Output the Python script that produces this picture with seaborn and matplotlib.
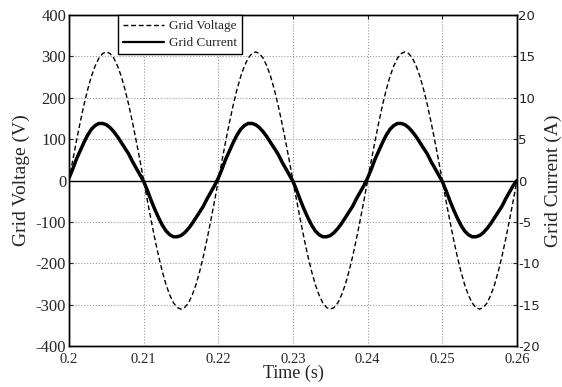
import numpy as np
import pandas as pd
import matplotlib
matplotlib.use("Agg")
import matplotlib.pyplot as plt
import seaborn as sns

# time axis (s), sampled every 0.5 ms
time = np.round(np.arange(0.2, 0.26 + 1e-9, 0.0005), 4)

# grid voltage (V)
voltage = [
    0, 49, 96, 141, 183, 220, 252, 277, 296, 307, 311, 307, 296, 277, 252, 220, 183, 141, 96, 49,
    0, -49, -96, -141, -183, -220, -252, -277, -296, -307, -311, -307, -296, -277, -252, -220, -183, -141, -96, -49,
    0, 49, 96, 141, 183, 220, 252, 277, 296, 307, 311, 307, 296, 277, 252, 220, 183, 141, 96, 49,
    0, -49, -96, -141, -183, -220, -252, -277, -296, -307, -311, -307, -296, -277, -252, -220, -183, -141, -96, -49,
    0, 49, 96, 141, 183, 220, 252, 277, 296, 307, 311, 307, 296, 277, 252, 220, 183, 141, 96, 49,
    0, -49, -96, -141, -183, -220, -252, -277, -296, -307, -311, -307, -296, -277, -252, -220, -183, -141, -96, -49,
    0,
]

# grid current (A)
current = [
    0.3, 1.4, 2.6, 3.6, 4.6, 5.5, 6.2, 6.65, 6.9, 6.9, 6.75, 6.4, 5.9, 5.3, 4.6, 3.9, 3.2, 2.3, 1.5, 0.7,
    -0.1, -1.2, -2.4, -3.5, -4.5, -5.4, -6.1, -6.55, -6.8, -6.8, -6.65, -6.3, -5.8, -5.2, -4.5, -3.8, -3.1, -2.2, -1.4, -0.6,
    0.3, 1.4, 2.6, 3.6, 4.6, 5.5, 6.2, 6.65, 6.9, 6.9, 6.75, 6.4, 5.9, 5.3, 4.6, 3.9, 3.2, 2.3, 1.5, 0.7,
    -0.1, -1.2, -2.4, -3.5, -4.5, -5.4, -6.1, -6.55, -6.8, -6.8, -6.65, -6.3, -5.8, -5.2, -4.5, -3.8, -3.1, -2.2, -1.4, -0.6,
    0.3, 1.4, 2.6, 3.6, 4.6, 5.5, 6.2, 6.65, 6.9, 6.9, 6.75, 6.4, 5.9, 5.3, 4.6, 3.9, 3.2, 2.3, 1.5, 0.7,
    -0.1, -1.2, -2.4, -3.5, -4.5, -5.4, -6.1, -6.55, -6.8, -6.8, -6.65, -6.3, -5.8, -5.2, -4.5, -3.8, -3.1, -2.2, -1.4, -0.6,
    0.0,
]

x_ticks = [0.2, 0.21, 0.22, 0.23, 0.24, 0.25, 0.26]
x_labels = ["0.2", "0.21", "0.22", "0.23", "0.24", "0.25", "0.26"]
v_ticks = [-400, -300, -200, -100, 0, 100, 200, 300, 400]
i_ticks = [-20, -15, -10, -5, 0, 5, 10, 15, 20]

df = pd.DataFrame({"Time": time, "Voltage": voltage, "Current": current})

sns.set_style("white")
plt.rcParams["font.family"] = ["Liberation Serif", "DejaVu Serif"]
plt.rcParams["axes.unicode_minus"] = False

fig = plt.figure(figsize=(5.62, 3.87), dpi=100)
ax = fig.add_axes([0.1228, 0.106, 0.797, 0.855])
ax2 = ax.twinx()

# voltage on left axis
sns.lineplot(data=df, x="Time", y="Voltage", ax=ax, color="black", linewidth=1.0,
             linestyle=(0, (3.5, 2)), label="Grid Voltage", legend=False)
# current on right axis
sns.lineplot(data=df, x="Time", y="Current", ax=ax2, color="black", linewidth=2.5,
             label="Grid Current", legend=False)

ax.axhline(0, color="black", linewidth=1.0, zorder=1)

ax.set_xlim(0.2, 0.26)
ax.set_ylim(-400, 400)
ax2.set_ylim(-20, 20)
ax.set_xticks(x_ticks)
ax.set_xticklabels(x_labels)
ax.set_yticks(v_ticks)
ax2.set_yticks(i_ticks)

ax.grid(True, color="#9a9a9a", linestyle=":", linewidth=0.8)
ax.set_axisbelow(True)

ax.tick_params(axis="x", direction="in", length=3, width=0.8, labelsize=10.5,
               top=True, pad=5)
ax.tick_params(axis="y", direction="in", length=3, width=0.8, labelsize=12,
               right=False, pad=2)
ax2.tick_params(axis="y", direction="in", length=3, width=0.8, labelsize=9, pad=1)
for lab in ax2.get_yticklabels():
    lab.set_fontfamily("DejaVu Sans")
    lab.set_fontsize(9.5)

ax.set_xlabel("Time (s)", fontsize=13, labelpad=-1)
ax.set_ylabel("Grid Voltage (V)", fontsize=14, labelpad=4)
ax2.set_ylabel("Grid Current (A)", fontsize=14, labelpad=3)

for a in (ax, ax2):
    for s in a.spines.values():
        s.set_color("black")
        s.set_linewidth(1.0)

h1, l1 = ax.get_legend_handles_labels()
h2, l2 = ax2.get_legend_handles_labels()
leg = ax2.legend(h1 + h2, l1 + l2, loc="upper left", bbox_to_anchor=(0.109, 1.0),
                 borderaxespad=0, fancybox=False, framealpha=1, edgecolor="black",
                 fontsize=9.5, handlelength=3.1, handletextpad=0.4,
                 borderpad=0.38, labelspacing=0.35)
leg.get_frame().set_linewidth(1.0)
leg.get_lines()[1].set_linewidth(1.6)

plt.savefig("out.png", dpi=100)
